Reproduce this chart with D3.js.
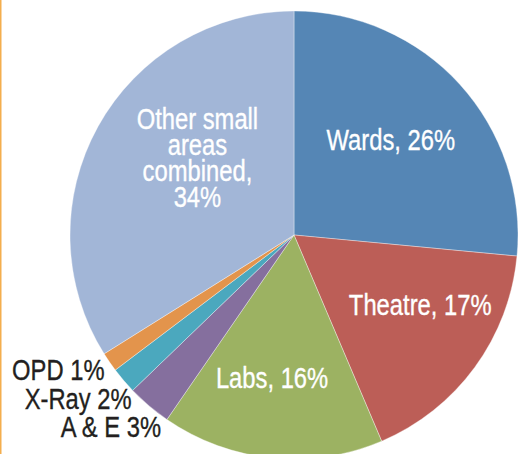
<!DOCTYPE html>
<html>
<head>
<meta charset="utf-8">
<script src="https://cdn.jsdelivr.net/npm/d3@7"></script>
<style>
  html, body { margin: 0; padding: 0; background: #fff; }
  svg { display: block; }
  text { font-family: "Liberation Sans", Arial, sans-serif; }
</style>
</head>
<body>
<svg id="chart" width="520" height="454"></svg>
<script>
// ---- data ----
const categories = ["Wards", "Theatre", "Labs", "A & E", "X-Ray", "OPD", "Other small areas combined"];
const values = [26.5, 17.1, 16.0, 3.2, 1.9, 1.4, 33.9];
const labelLines = [
  ["Wards, 26%"],
  ["Theatre, 17%"],
  ["Labs, 16%"],
  ["A & E 3%"],
  ["X-Ray 2%"],
  ["OPD 1%"],
  ["Other small", "areas", "combined,", "34%"]
];
const colors = ["#5586B5", "#BC5E57", "#9CB262", "#856F9E", "#4BA8BE", "#E3944C", "#A2B6D7"];

// ---- layout ----
const W = 520, H = 454;
const cx = 294, cy = 235, R = 224;
const inside = [true, true, true, false, false, false, true];
// label offsets from the computed anchor (inside: centroid; outside: outer edge point)
const nudge = [[-6, -1], [14, -12], [-8, 5], [12, 21], [8, 19], [-5, 8], [25, -10]];
const fontSize = 29, lineH = 26, condense = 0.82;

const svg = d3.select("#chart");

svg.append("line")
  .attr("x1", 0.75).attr("x2", 0.75).attr("y1", 0).attr("y2", H)
  .attr("stroke", "#F4AE4E").attr("stroke-width", 1.5);

const g = svg.append("g").attr("transform", `translate(${cx},${cy})`);

const pie = d3.pie().sort(null).value(d => d)
  .startAngle(0).endAngle(2 * Math.PI);
const arcs = pie(values);

const arc = d3.arc().innerRadius(0).outerRadius(R);
const labelArc = d3.arc().innerRadius(139).outerRadius(139);

g.selectAll("path.slice")
  .data(arcs)
  .join("path")
  .attr("class", "slice")
  .attr("d", arc)
  .attr("fill", (d, i) => colors[i])
  .attr("stroke", "rgba(255,255,255,0.6)")
  .attr("stroke-width", 0.6);

arcs.forEach((d, i) => {
  const lines = labelLines[i];
  let x, y, anchor, fill;
  if (inside[i]) {
    const c = labelArc.centroid(d);
    x = c[0] + nudge[i][0];
    y = c[1] + nudge[i][1];
    anchor = "middle";
    fill = "#ffffff";
  } else {
    const a = (d.startAngle + d.endAngle) / 2;
    x = R * Math.sin(a) + nudge[i][0];
    y = -R * Math.cos(a) + nudge[i][1];
    anchor = "end";
    fill = "#231F20";
  }
  const n = lines.length;
  const t = g.append("text")
    .attr("transform", `translate(${x},${y}) scale(${condense},1)`)
    .attr("text-anchor", anchor)
    .attr("fill", fill)
    .attr("stroke", fill)
    .attr("stroke-width", 0.35)
    .attr("font-size", fontSize);
  lines.forEach((ln, k) => {
    t.append("tspan")
      .attr("x", 0)
      .attr("y", (k - (n - 1) / 2) * lineH + 10)
      .text(ln);
  });
});
</script>
</body>
</html>
